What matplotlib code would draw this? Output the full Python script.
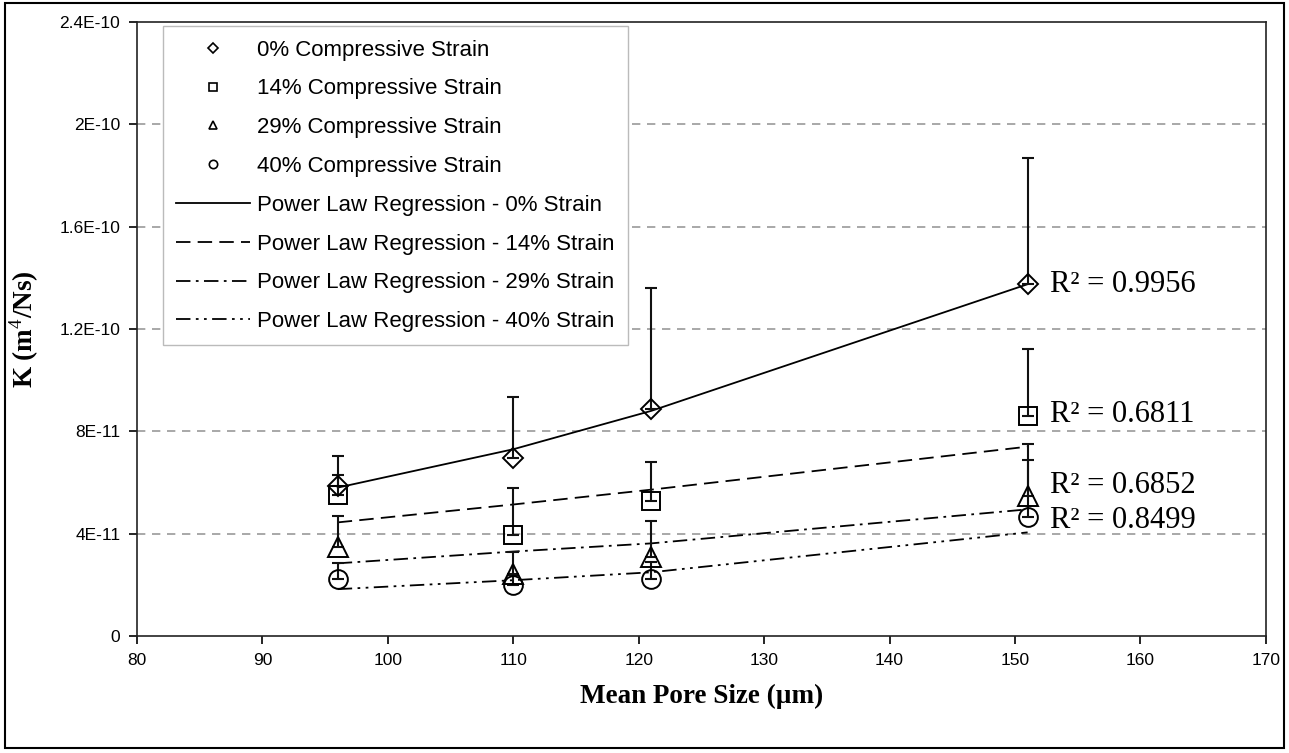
import numpy as np
import matplotlib
matplotlib.use('Agg')
import matplotlib.pyplot as plt
from matplotlib.lines import Line2D
from matplotlib.patches import Rectangle

# Dados
pore = [96, 110, 121, 151]

k_0 = [5.88e-11, 6.97e-11, 8.88e-11, 1.375e-10]
k_0_top = [7.05e-11, 9.35e-11, 1.36e-10, 1.87e-10]
k_14 = [5.53e-11, 3.93e-11, 5.26e-11, 8.6e-11]
k_14_top = [6.3e-11, 5.77e-11, 6.82e-11, 1.12e-10]
k_29 = [3.47e-11, 2.42e-11, 3.08e-11, 5.49e-11]
k_29_top = [4.68e-11, 3.27e-11, 4.48e-11, 7.52e-11]
k_40 = [2.22e-11, 2.0e-11, 2.22e-11, 4.64e-11]
k_40_top = [2.84e-11, 2.4e-11, 2.9e-11, 6.86e-11]

fit_0 = [5.8e-11, 7.3e-11, 8.8e-11, 1.375e-10]
fit_14 = [4.44e-11, 5.14e-11, 5.72e-11, 7.4e-11]
fit_29 = [2.84e-11, 3.3e-11, 3.62e-11, 4.95e-11]
fit_40 = [1.83e-11, 2.18e-11, 2.49e-11, 4.05e-11]

r2_labels = ['R² = 0.9956', 'R² = 0.6811', 'R² = 0.6852', 'R² = 0.8499']
r2_y = [1.375e-10, 8.65e-11, 5.9e-11, 4.5e-11]

point_labels = ['0% Compressive Strain', '14% Compressive Strain',
                '29% Compressive Strain', '40% Compressive Strain']
fit_labels = ['Power Law Regression - 0% Strain', 'Power Law Regression - 14% Strain',
              'Power Law Regression - 29% Strain', 'Power Law Regression - 40% Strain']

y_ticks = [0, 4e-11, 8e-11, 1.2e-10, 1.6e-10, 2e-10, 2.4e-10]
y_ticklabels = ['0', '4E-11', '8E-11', '1.2E-10', '1.6E-10', '2E-10', '2.4E-10']
x_ticks = [80, 90, 100, 110, 120, 130, 140, 150, 160, 170]

sans = ['Liberation Sans', 'DejaVu Sans']
serif = ['Liberation Serif', 'DejaVu Serif']

plt.rcParams['font.family'] = sans
plt.rcParams['mathtext.fontset'] = 'custom'
plt.rcParams['mathtext.rm'] = 'Liberation Serif'
plt.rcParams['mathtext.bf'] = 'Liberation Serif:bold'

fig = plt.figure(figsize=(12.89, 7.53), dpi=100)
ax = fig.add_axes([0.1063, 0.1554, 0.8758, 0.8154])

markers = ['D', 's', '^', 'o']
msizes = [10, 13.5, 14, 13.5]
styles = ['-', (0, (8, 4)), (0, (8, 3, 1.5, 3)), (0, (8, 3, 1.5, 3, 1.5, 3))]
pts = [k_0, k_14, k_29, k_40]
tops = [k_0_top, k_14_top, k_29_top, k_40_top]
fits = [fit_0, fit_14, fit_29, fit_40]

for y, top in zip(pts, tops):
    up = np.array(top) - np.array(y)
    ax.errorbar(pore, y, yerr=[np.zeros(len(y)), up], fmt='none', ecolor='#111111',
                elinewidth=1.5, capsize=4.5, capthick=1.5, zorder=3)

for f, ls in zip(fits, styles):
    ax.plot(pore, f, color='black', linestyle=ls, linewidth=1.3, zorder=2)

for y, m, ms in zip(pts, markers, msizes):
    ax.plot(pore, y, linestyle='none', marker=m, markersize=ms, markerfacecolor='none',
            markeredgecolor='black', markeredgewidth=1.4, zorder=4)

for txt, yy in zip(r2_labels, r2_y):
    ax.text(152.8, yy, txt, family=serif, fontsize=22, va='center', ha='left')

ax.set_xlim(80, 170)
ax.set_ylim(0, 2.4e-10)
ax.set_xticks(x_ticks)
ax.set_yticks(y_ticks)
ax.set_yticklabels(y_ticklabels)
ax.tick_params(axis='both', direction='out', length=6, width=1.2, labelsize=12.5, pad=6)
for s in ax.spines.values():
    s.set_linewidth(1.2)
    s.set_color('#222222')

for yy in y_ticks[1:-1]:
    ax.axhline(yy, color='#999999', linestyle=(0, (5, 4)), linewidth=1.2, zorder=1)

ax.set_xlabel('Mean Pore Size (µm)', family=serif, fontsize=19.5, fontweight='bold', labelpad=12)
ax.set_ylabel(r'K (m$^4$/Ns)', family=serif, fontsize=19.5, fontweight='bold')
ax.yaxis.set_label_coords(-0.085, 0.5)

# legenda
handles = []
for m in markers:
    handles.append(Line2D([], [], linestyle='none', marker=m, markersize=6 if m != 'D' else 5,
                          markerfacecolor='none', markeredgecolor='black', markeredgewidth=1.2))
for ls in styles:
    handles.append(Line2D([], [], color='black', linestyle=ls, linewidth=1.3))
leg = ax.legend(handles, point_labels + fit_labels, loc='upper left',
                bbox_to_anchor=(0.023, 0.993), labelspacing=0.8,
                handlelength=3.3, handletextpad=0.35, borderpad=0.6, borderaxespad=0,
                fancybox=False, framealpha=1, edgecolor='#bbbbbb',
                prop={'family': sans, 'size': 16})
leg.get_frame().set_linewidth(1.0)

# moldura externa
fig.patches.append(Rectangle((0.004, 0.006), 0.992, 0.99, transform=fig.transFigure,
                             fill=False, edgecolor='black', linewidth=1.5))

fig.savefig('out.png', dpi=100)
